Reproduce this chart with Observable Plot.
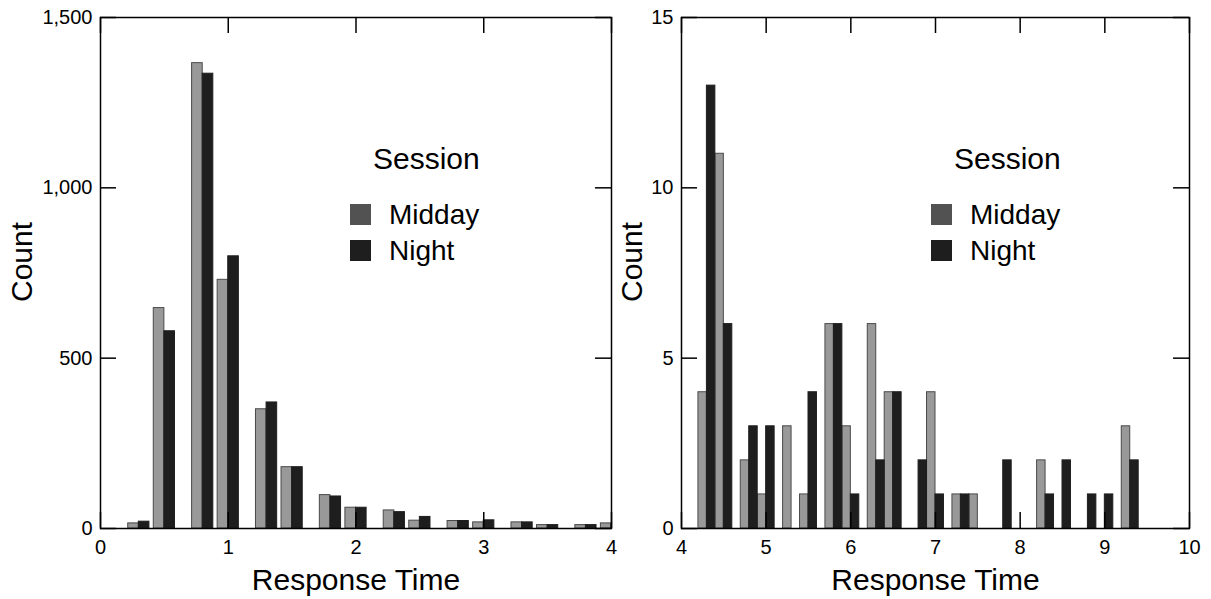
<!DOCTYPE html>
<html><head><meta charset="utf-8">
<script src="https://cdn.jsdelivr.net/npm/d3@7"></script>
<script src="https://cdn.jsdelivr.net/npm/@observablehq/plot@0.6"></script>
<style>
html,body{margin:0;padding:0;background:#fff;}
#wrap{position:relative;width:1211px;height:599px;font-family:"Liberation Sans",Arial,sans-serif;color:#000;}
#wrap svg{position:absolute;top:0;overflow:visible;}
.leg{position:absolute;}
.leg .title{position:absolute;font-size:30px;white-space:nowrap;line-height:1;}
.leg .sw{position:absolute;width:21px;height:21px;}
.leg .lab{position:absolute;font-size:28px;white-space:nowrap;line-height:1;}
</style></head>
<body><div id="wrap"></div>
<script>
// ---- data ----
const seriesNames = ["Midday", "Night"];
const seriesColors = ["#999999", "#1e1e1e"];
const legendColors = ["#525252", "#1e1e1e"];

const leftBins   = [0.0, 0.3, 0.5, 0.8, 1.0, 1.3, 1.5, 1.8, 2.0, 2.3, 2.5, 2.8, 3.0, 3.3, 3.5, 3.8, 4.0];
const leftMidday = [0, 15, 647, 1366, 730, 350, 180, 98, 61, 53, 23, 22, 18, 18, 10, 10, 15];
const leftNight  = [0, 20, 579, 1335, 799, 370, 180, 94, 61, 48, 34, 22, 24, 18, 10, 10, 12];
const leftXTicks = [0, 1, 2, 3, 4];
const leftYTicks = [0, 500, 1000, 1500];

const rightBins   = [4.0, 4.3, 4.5, 4.8, 5.0, 5.3, 5.5, 5.8, 6.0, 6.3, 6.5, 6.8, 7.0, 7.3, 7.5, 7.8, 8.0, 8.3, 8.5, 8.8, 9.0, 9.3, 9.5, 9.8, 10.0];
const rightMidday = [0, 4, 11, 2, 1, 3, 1, 6, 3, 6, 4, 0, 4, 1, 1, 0, 0, 2, 0, 0, 0, 3, 0, 0, 0];
const rightNight  = [0, 13, 6, 3, 3, 0, 4, 6, 1, 2, 4, 2, 1, 1, 0, 2, 0, 1, 2, 1, 1, 2, 0, 0, 0];
const rightXTicks = [4, 5, 6, 7, 8, 9, 10];
const rightYTicks = [0, 5, 10, 15];

const xLabel = "Response Time";
const yLabel = "Count";
const legendTitle = "Session";

// ---- drawing ----
const H = 599, MT = 17, MB = 71, TICK = 16;
const FONT = "'Liberation Sans', Arial, sans-serif";

function panel({bins, midday, night, xTicks, yTicks, barW, width, marginLeft, marginRight, yFormat, countDx}) {
  const rows = bins.map((b, i) => ({bin: b, midday: midday[i], night: night[i]}));
  const ph = H - MT - MB;
  const pw = width - marginLeft - marginRight;
  return Plot.plot({
    width, height: H, marginTop: MT, marginBottom: MB, marginLeft, marginRight,
    style: {fontFamily: FONT, background: "transparent", overflow: "visible", color: "black"},
    x: {domain: [xTicks[0], xTicks[xTicks.length - 1]]},
    y: {domain: [yTicks[0], yTicks[yTicks.length - 1]]},
    marks: [
      Plot.rect(rows, {x1: d => d.bin - barW, x2: d => d.bin, y1: 0, y2: "midday",
        fill: seriesColors[0], stroke: "#4a4a4a", strokeWidth: 1, clip: true}),
      Plot.rect(rows, {x1: d => d.bin, x2: d => d.bin + barW, y1: 0, y2: "night",
        fill: seriesColors[1], stroke: "#1e1e1e", strokeWidth: 1, clip: true}),
      Plot.ruleX(xTicks, {insetTop: ph - TICK, stroke: "black", strokeWidth: 1.5}),
      Plot.ruleX(xTicks, {insetBottom: ph - TICK, stroke: "black", strokeWidth: 1.5}),
      Plot.ruleY(yTicks, {insetRight: pw - TICK, stroke: "black", strokeWidth: 1.5}),
      Plot.ruleY(yTicks, {insetLeft: pw - TICK, stroke: "black", strokeWidth: 1.5}),
      Plot.frame({stroke: "black", strokeWidth: 1.5}),
      Plot.axisX(xTicks, {tickSize: 0, tickPadding: 11, fontSize: 20, label: null, tickFormat: d3.format("d")}),
      Plot.axisY(yTicks, {tickSize: 0, tickPadding: 8, fontSize: 20, label: null, tickFormat: yFormat}),
      Plot.text([xLabel], {frameAnchor: "bottom", dy: 52, lineAnchor: "middle", fontSize: 30, fill: "black"}),
      Plot.text([yLabel], {frameAnchor: "left", textAnchor: "middle", dx: countDx, dy: -11, rotate: -90, lineAnchor: "middle", fontSize: 30, fill: "black"})
    ]
  });
}

const wrap = document.getElementById("wrap");

const left = panel({bins: leftBins, midday: leftMidday, night: leftNight,
  xTicks: leftXTicks, yTicks: leftYTicks, barW: 0.083,
  width: 611, marginLeft: 100, marginRight: 0, yFormat: d3.format(","), countDx: -78});
left.style.left = "0px";
wrap.appendChild(left);

const right = panel({bins: rightBins, midday: rightMidday, night: rightNight,
  xTicks: rightXTicks, yTicks: rightYTicks, barW: 0.1,
  width: 600, marginLeft: 70, marginRight: 22, yFormat: d3.format("d"), countDx: -49});
right.style.left = "611px";
wrap.appendChild(right);

function legend(x0) {
  const g = document.createElement("div");
  g.className = "leg";
  g.style.left = x0 + "px"; g.style.top = "0px";
  const t = document.createElement("div");
  t.className = "title"; t.textContent = legendTitle;
  t.style.left = "23px"; t.style.top = "144px";
  g.appendChild(t);
  seriesNames.forEach((name, i) => {
    const sw = document.createElement("div");
    sw.className = "sw"; sw.style.background = legendColors[i];
    sw.style.left = "0px"; sw.style.top = (204 + i * 36) + "px";
    g.appendChild(sw);
    const lab = document.createElement("div");
    lab.className = "lab"; lab.textContent = name;
    lab.style.left = "39px"; lab.style.top = (201 + i * 36) + "px";
    g.appendChild(lab);
  });
  wrap.appendChild(g);
}
legend(350);
legend(931);
</script>
</body></html>
